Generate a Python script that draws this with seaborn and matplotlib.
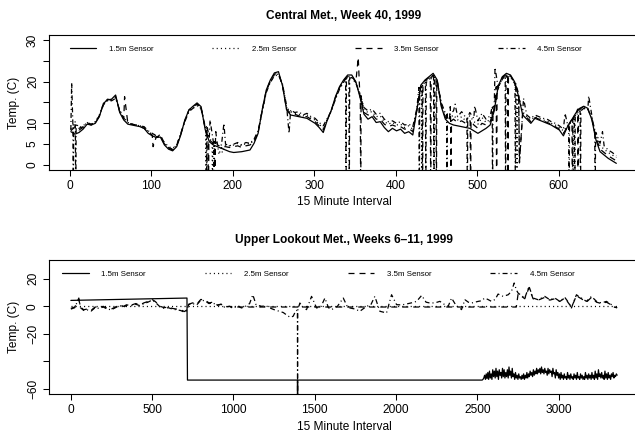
"""
Hourly-ish temperature traces for two met stations (four sensor heights)
"""
import numpy as np
import pandas as pd
import matplotlib
matplotlib.use('Agg')
import matplotlib.pyplot as plt
import seaborn as sns

sensors = ['1.5m Sensor', '2.5m Sensor', '3.5m Sensor', '4.5m Sensor']
dash_map = {'1.5m Sensor': '', '2.5m Sensor': (0.85, 2.5),
            '3.5m Sensor': (4.8, 4.0), '4.5m Sensor': (4.0, 2.4, 0.85, 2.4)}

# ---- Central Met., week 40 (one reading every 5 intervals)
top_step = 5
top_15 = [8.0, 7.4, 7.8, 8.6, 9.8, 9.6, 10.0, 11.6, 14.8, 15.6,
          15.8, 16.8, 12.6, 10.8, 9.8, 9.6, 9.4, 9.2, 8.8, 7.6,
          7.0, 6.6, 6.7, 4.8, 3.8, 3.4, 4.4, 7.2, 10.8, 13.2,
          14.1, 14.9, 14.0, 8.5, 5.6, 4.8, 4.4, 4.0, 3.6, 3.2,
          3.0, 3.1, 3.2, 3.4, 3.6, 5.2, 7.6, 13.2, 18.0, 20.4,
          22.1, 22.4, 19.0, 13.2, 12.0, 11.8, 11.6, 11.4, 11.2, 10.6,
          10.0, 9.0, 7.8, 10.8, 13.2, 16.4, 18.8, 20.4, 21.6, 21.6,
          20.0, 16.4, 12.2, 11.0, 11.6, 10.2, 10.4, 9.0, 8.0, 8.8,
          8.2, 8.6, 7.6, 8.0, 7.2, 13.2, 19.2, 20.4, 21.2, 22.0,
          20.4, 14.0, 11.0, 10.0, 9.6, 9.4, 9.2, 9.0, 8.8, 8.2,
          7.6, 8.2, 8.8, 9.6, 13.0, 19.0, 21.2, 22.0, 21.6, 20.0,
          16.4, 12.0, 11.0, 10.0, 11.2, 10.8, 10.4, 10.0, 9.6, 9.0,
          8.4, 7.0, 9.2, 10.8, 12.4, 13.6, 14.1, 13.6, 10.8, 6.0,
          3.2, 2.4, 1.6, 1.0, 0.4]
top_25 = [8.6, 10.4, 9.0, 9.4, 10.2, 9.8, 10.4, 12.0, 14.6, 15.4,
          15.6, 16.2, 13.0, 11.4, 10.2, 9.8, 9.6, 9.4, 9.0, 8.0,
          7.4, 7.2, 6.8, 5.4, 4.4, 4.0, 4.8, 7.4, 10.6, 13.0,
          13.8, 14.4, 13.6, 9.0, 6.4, 5.6, 5.0, 4.6, 4.8, 4.6,
          4.8, 5.2, 4.6, 5.2, 5.0, 6.0, 8.0, 13.0, 17.6, 20.0,
          21.6, 21.8, 19.2, 13.8, 12.8, 12.4, 12.2, 11.8, 12.0, 11.2,
          10.8, 9.8, 8.8, 11.0, 13.0, 16.0, 18.4, 20.0, 21.0, 21.2,
          19.8, 16.8, 13.2, 12.6, 12.8, 11.6, 11.8, 10.4, 9.8, 10.2,
          9.6, 9.8, 9.0, 9.4, 8.6, 13.4, 18.8, 20.0, 20.8, 21.4,
          20.0, 14.6, 11.8, 11.2, 12.0, 10.8, 11.6, 10.6, 11.8, 10.4,
          9.8, 11.4, 10.2, 11.0, 13.6, 18.6, 20.8, 21.6, 21.2, 19.8,
          16.8, 12.8, 11.6, 10.8, 11.6, 11.2, 10.8, 10.6, 10.0, 9.6,
          9.0, 8.2, 9.4, 10.6, 12.0, 13.2, 13.8, 13.4, 11.4, 7.2,
          4.6, 3.8, 3.0, 2.4, 1.8]
top_35 = [8.2, 9.2, 8.4, 9.0, 10.0, 9.6, 10.2, 11.8, 14.6, 15.8,
          15.6, 16.4, 12.8, 11.0, 10.0, 9.8, 9.6, 9.2, 8.8, 7.8,
          7.2, 6.8, 6.9, 5.0, 4.0, 3.6, 4.6, 7.4, 10.6, 13.2,
          14.0, 14.6, 13.8, 8.8, 6.0, 5.2, 4.8, 4.4, 4.4, 4.2,
          4.4, 4.6, 4.2, 4.6, 4.8, 5.6, 7.8, 13.2, 17.8, 20.2,
          21.8, 22.0, 19.0, 13.4, 12.4, 12.2, 11.8, 11.6, 11.6, 11.0,
          10.4, 9.4, 8.4, 10.8, 13.2, 16.2, 18.6, 20.2, 21.2, 21.4,
          19.8, 16.6, 12.6, 12.0, 12.2, 11.0, 11.0, 9.8, 9.2, 9.6,
          9.2, 9.2, 8.6, 8.8, 8.0, 13.2, 19.0, 20.2, 21.0, 21.6,
          20.2, 14.4, 11.4, 10.6, 11.0, 10.2, 10.6, 10.0, 10.6, 9.6,
          8.8, 10.0, 9.6, 10.4, 13.4, 18.8, 21.0, 21.8, 21.4, 19.8,
          16.6, 12.4, 11.4, 10.4, 11.4, 11.0, 10.6, 10.2, 9.8, 9.2,
          8.6, 7.6, 9.2, 10.8, 12.2, 13.4, 14.0, 13.4, 11.0, 6.6,
          3.8, 3.0, 2.2, 1.6, 1.0]
top_45 = [8.4, 9.6, 8.8, 9.2, 10.2, 9.8, 10.2, 11.8, 14.4, 15.6,
          15.4, 16.0, 13.2, 11.2, 10.2, 9.8, 9.6, 9.4, 9.2, 8.2,
          7.6, 7.0, 7.2, 5.2, 4.2, 3.8, 4.8, 7.6, 10.4, 12.8,
          13.6, 14.2, 13.4, 9.2, 6.4, 5.6, 5.2, 4.8, 5.0, 4.6,
          5.0, 5.4, 4.8, 5.4, 5.2, 6.2, 8.2, 12.8, 17.4, 19.8,
          21.4, 21.6, 19.4, 14.2, 13.2, 12.6, 12.8, 12.0, 12.4, 11.6,
          11.2, 10.2, 9.4, 11.2, 13.0, 15.8, 18.2, 19.8, 20.8, 21.0,
          19.6, 17.2, 13.8, 13.0, 13.4, 12.2, 12.4, 11.0, 10.4, 10.6,
          10.0, 10.4, 9.6, 9.8, 9.2, 13.6, 18.6, 19.8, 20.6, 21.2,
          19.8, 15.0, 12.4, 12.0, 13.0, 11.6, 12.8, 11.4, 12.6, 11.2,
          10.6, 12.4, 11.0, 11.8, 14.0, 18.4, 20.6, 21.4, 21.0, 19.6,
          17.0, 13.2, 12.0, 11.2, 12.0, 11.6, 11.2, 11.0, 10.4, 10.0,
          9.4, 8.6, 9.8, 10.4, 11.8, 13.0, 13.6, 13.2, 11.8, 7.8,
          5.2, 4.6, 3.6, 3.0, 2.2]

# single odd readings (interval, temp) and sensor dropouts (interval)
top_spikes = {
    '2.5m Sensor': [(183, 2.5), (187, 3.0)],
    '3.5m Sensor': [(67, 16.4), (102, 4.4), (179, 8.0), (354, 25.8), (467, 14.0), (552, 0.8)],
    '4.5m Sensor': [(2, 19.8), (172, 10.8), (189, 10.0), (269, 7.6), (473, 14.6), (497, 14.2),
                    (522, 23.4), (552, 0.5), (557, 16.0), (608, 12.4), (637, 16.6), (654, 8.0)],
}
top_drops = {
    '2.5m Sensor': [167, 175, 432, 549, 618],
    '3.5m Sensor': [170, 178, 357, 433, 443, 450, 468, 492, 524, 538, 617, 624],
    '4.5m Sensor': [4, 7, 168, 177, 339, 343, 429, 437, 447, 463, 488, 519, 535, 547,
                    613, 620, 627, 645],
}

# ---- Upper Lookout Met., weeks 6-11
low_15_x = [1, 715, 718]
low_15_v = [4.3, 6.0, -53.5]
low_15_noise_start = 2530
low_15_noise_step = 5
low_15_noise = [-53.5, -53, -52, -50, -53, -49, -52.5, -48, -53, -47, -52, -49, -53, -46, -51,
                -47, -52, -45, -51, -47, -53, -46, -50, -48, -52, -45, -51, -46, -52, -48, -51, -46, -52, -44, -50,
                -47, -52, -45, -51, -49, -53, -48, -52, -50, -53, -49, -52, -51, -53, -50, -52.5, -49, -53, -50, -52,
                -48, -52, -49, -51, -47, -50, -48, -51, -46, -50, -47, -49, -45, -49, -46, -48, -45, -49, -44, -48,
                -46, -49, -45, -48, -47, -50, -45, -49, -46, -48, -47, -51, -45, -49, -48, -52, -46, -50, -48, -52,
                -49, -53, -48, -52, -50, -53, -49, -52, -51, -53, -48, -52, -50, -53, -49, -52, -51, -53, -49, -52,
                -50, -53, -48, -52, -51, -53, -49, -52, -50, -53, -51, -53, -48, -52, -50, -53, -49, -52, -50, -53,
                -48, -52, -50, -53, -47, -52, -49, -53, -46, -51, -49, -52, -48, -52, -50, -53, -47, -52, -49, -53,
                -48, -52, -50, -53, -49, -51, -48, -52, -50, -51, -49, -50]
low_25_x = [1, 700, 1400, 2100, 2800, 3360]
low_25_v = [0, 0, 0, 0, 0, 0]
low_35_x = [1, 25, 50, 60, 80, 100, 125, 150, 175, 200,
            225, 250, 275, 300, 325, 350, 375, 400, 425, 450,
            475, 500, 520, 550, 575, 600, 625, 650, 675, 700,
            715, 725, 750, 775, 800, 825, 850, 875, 900, 925,
            950, 975, 1000, 2740, 2751, 2770, 2792, 2818, 2843, 2874,
            2895, 2915, 2946, 2977, 3007, 3038, 3060, 3079, 3095, 3110,
            3125, 3140, 3171, 3202, 3233, 3264, 3294, 3325, 3345, 3360]
low_35_v = [-1.5, -0.5, 5, -0.5, -2.5, -2, -3, -0.5, -1, 0,
            -1.5, -2, -0.5, 1, 0, 1.5, 1, 2, 1, 2.5,
            3.5, 5, 3.5, 0, -1, -0.5, -1.5, -2, -2.5, -3.8,
            -2.5, 1.5, 2.5, 1.5, 5, 4.5, 2.5, 3, 1, 1.5,
            -0.5, 0, -0.5, -0.5, 9, 7.5, 5.5, 13.5, 5.5, 4.5,
            5.5, 6.5, 4.5, 5.5, 3.5, 6, 2.5, -0.5, 3.5, 8,
            6.5, 5.5, 3, 6.5, 3, 2, 3, 1, -0.5, -1]
low_45_x = [1, 25, 50, 60, 80, 100, 125, 150, 175, 200,
            225, 250, 275, 300, 325, 350, 375, 400, 425, 450,
            475, 500, 520, 550, 575, 600, 625, 650, 675, 700,
            715, 725, 750, 775, 800, 825, 850, 875, 900, 925,
            950, 975, 1000, 1025, 1050, 1075, 1100, 1120, 1140, 1175,
            1200, 1225, 1250, 1280, 1307, 1330, 1350, 1368, 1385, 1409,
            1430, 1450, 1481, 1512, 1540, 1563, 1585, 1604, 1640, 1676,
            1700, 1717, 1750, 1778, 1819, 1845, 1870, 1901, 1942, 1973,
            2004, 2035, 2065, 2095, 2127, 2158, 2185, 2209, 2240, 2270,
            2300, 2321, 2342, 2370, 2393, 2403, 2424, 2445, 2465, 2485,
            2506, 2525, 2546, 2565, 2587, 2610, 2628, 2659, 2690, 2710,
            2727, 2740, 2751, 2770, 2792, 2818, 2843, 2874, 2895, 2915,
            2946, 2977, 3007, 3038, 3060, 3079, 3095, 3110, 3125, 3140,
            3171, 3202, 3233, 3264, 3294, 3325, 3345, 3360]
low_45_v = [-2, -1, 6, -1, -3, -2.5, -3.5, -1, -1.5, -0.5,
            -2, -2.5, -1, 0.5, -0.5, 1, 0.5, 1.5, 0.5, 2,
            3, 4.5, 3, -0.5, -1.5, -1, -2, -2.5, -3, -4.3,
            -3, 1.2, 2, 1, 4.5, 4, 2, 2.5, 0.5, 1.5,
            -1, 0, -1.5, 0.5, -1.2, 0, 2, 8.4, 1, 0,
            0.5, -1.2, -2.4, -3.5, -4.5, -6.5, -8, -7.2, -3, 2.4,
            -1, -2.4, 7.2, -1.2, 0, 6, -1, -2.4, 0, 6,
            0, -1.2, -2, -3.6, 0, 1, 7.2, -3.6, -4.8, 8.4,
            1.2, 1, 1.7, 2.5, 3.6, 7.9, 3, 2.4, 2.5, 3.6,
            1.2, 0, 6, 0.5, -1.2, -2.4, 4.8, 3, 2.4, 3,
            3.6, 4, 6, 5, 3.6, 5, 8.9, 7.2, 8.4, 10.8,
            16.9, 12, 9.6, 8, 6, 14.5, 6, 4.8, 6, 7.2,
            4.8, 6, 3.6, 6.5, 3, -1.2, 4, 8.4, 7, 6,
            3.6, 7.2, 3.6, 2.4, 3.6, 1.2, -0.7, -1]
low_drops = {'1.5m Sensor': [1395], '4.5m Sensor': [1395]}


def with_events(x, v, spikes=(), drops=(), low=-10.0, half=0.5):
    """Add odd single readings and dropouts (reading far below scale)"""
    xs = np.asarray(x, float)
    vs = np.asarray(v, float)
    px, pv = list(xs), list(vs)
    for sx, sv in spikes:
        px.append(sx)
        pv.append(sv)
    for d in drops:
        near = vs[np.argmin(np.abs(xs - d))]
        px += [d - half, d, d + half]
        pv += [near, low, near]
    return px, pv


def to_frame(series):
    frames = []
    for name in sensors:
        x, v = series[name]
        frames.append(pd.DataFrame({'interval': x, 'temp': v, 'sensor': name}))
    return pd.concat(frames, ignore_index=True)


top_series = {}
for name, vals in zip(sensors, [top_15, top_25, top_35, top_45]):
    x = 1 + top_step * np.arange(len(vals))
    top_series[name] = with_events(x, vals, top_spikes.get(name, []),
                                   top_drops.get(name, []), low=-10.0, half=0.5)
df_top = to_frame(top_series)

x15 = low_15_x + list(low_15_noise_start + low_15_noise_step * np.arange(len(low_15_noise)))
v15 = low_15_v + low_15_noise
low_raw = {'1.5m Sensor': (x15, v15), '2.5m Sensor': (low_25_x, low_25_v),
           '3.5m Sensor': (low_35_x, low_35_v), '4.5m Sensor': (low_45_x, low_45_v)}
low_series = {}
for name in sensors:
    x, v = low_raw[name]
    low_series[name] = with_events(x, v, [], low_drops.get(name, []), low=-90.0, half=1.0)
df_low = to_frame(low_series)

# ---- plotting
sns.set_style('ticks', rc={'axes.edgecolor': 'black', 'text.color': 'black',
                           'xtick.color': 'black', 'ytick.color': 'black',
                           'axes.labelcolor': 'black', 'axes.linewidth': 0.8})
plt.rcParams['font.family'] = ['Liberation Sans', 'DejaVu Sans']

fig = plt.figure(figsize=(6.35, 4.34), dpi=100)
ax1 = fig.add_axes([49 / 635, 1 - 170 / 434, 590 / 635, 135 / 434])
ax2 = fig.add_axes([49 / 635, 1 - 394 / 434, 590 / 635, 134 / 434])

panels = [
    (ax1, df_top, 'Central Met., Week 40, 1999', (-25.84, 698.84), (-1.2, 31.2),
     [0, 100, 200, 300, 400, 500, 600], [0, 5, 10, 15, 20, 25, 30],
     ['0', '5', '10', '', '20', '', '30'], 11.3, -0.193, 0.035),
    (ax2, df_low, 'Upper Lookout Met., Weeks 6\u201311, 1999', (-133.4, 3494.4), (-63.6, 33.6),
     [0, 500, 1000, 1500, 2000, 2500, 3000], [-60, -40, -20, 0, 20],
     ['\u221260', '', '\u221220', '0', '20'], 12.0, -0.2, 0.022),
]

for ax, df, title, xlim, ylim, xt, yt, ytl, tpad, xlab_y, leg_x in panels:
    sns.lineplot(data=df, x='interval', y='temp', style='sensor', style_order=sensors,
                 dashes=dash_map, color='black', linewidth=0.9, estimator=None,
                 errorbar=None, sort=True, ax=ax)
    ax.set_xlim(*xlim)
    ax.set_ylim(*ylim)
    ax.set_xticks(xt)
    ax.set_xticklabels([str(t) for t in xt])
    ax.set_yticks(yt)
    ax.set_yticklabels(ytl, rotation=90, va='center')
    ax.tick_params(direction='out', length=4.3, width=0.75, labelsize=8.6, pad=2.9)
    ax.set_title(title, fontsize=8.6, fontweight='bold', pad=tpad)
    ax.set_xlabel('15 Minute Interval', fontsize=8.6)
    ax.set_ylabel('Temp. (C)', fontsize=8.6)
    ax.xaxis.set_label_coords(0.5, xlab_y)
    ax.yaxis.set_label_coords(-0.049, 0.5)
    for side in ['top', 'right', 'bottom', 'left']:
        ax.spines[side].set_visible(True)
    sns.move_legend(ax, 'center left', bbox_to_anchor=(leg_x, 0.896),
                    ncol=4, title=None, frameon=False, fontsize=5.7, handlelength=3.35,
                    handletextpad=1.6, columnspacing=7.45, borderpad=0, borderaxespad=0)

fig.savefig('out.png', dpi=100)
